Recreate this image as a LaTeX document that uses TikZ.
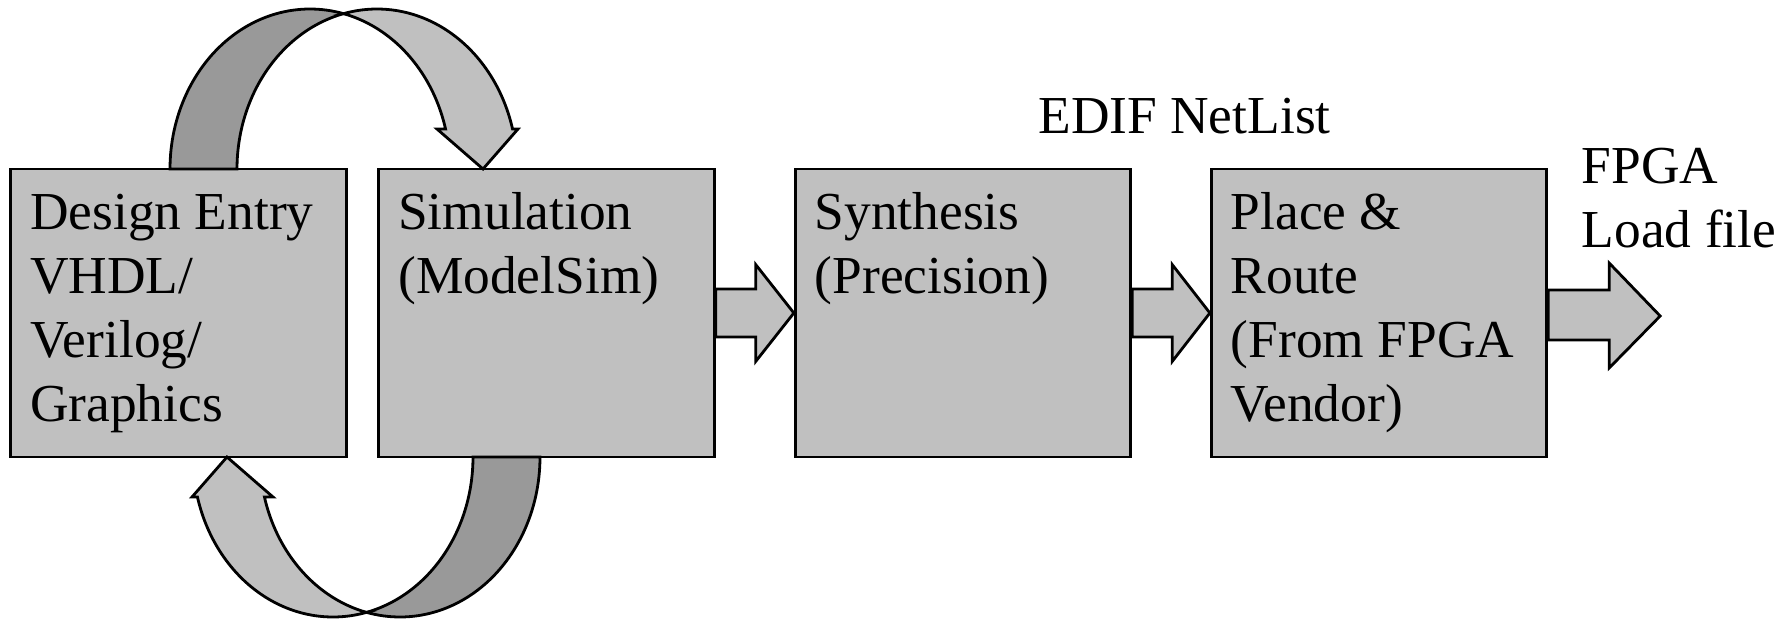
\documentclass[tikz,border=0pt]{standalone}
\usepackage{fontspec}
\setmainfont{Liberation Serif}
\usetikzlibrary{calc}

\definecolor{boxgray}{HTML}{C0C0C0}
\definecolor{ribbondark}{HTML}{999999}

\tikzset{
  stage/.style={draw=black, fill=boxgray, line width=1.4pt,
    minimum width=167.75pt, minimum height=144pt, inner sep=0pt},
  stagetext/.style={anchor=north west, inner sep=0pt, align=left,
    font=\fontsize{26.7}{32}\selectfont},
  plaintext/.style={inner sep=0pt, align=left,
    font=\fontsize{26.7}{32}\selectfont},
  blockarrow/.style={draw=black, fill=boxgray, line width=1.4pt, line join=miter},
  ribbonpart/.style={draw=black, line width=1.4pt, line join=miter},
  % looping ribbon arrow: two equal ellipses offset sideways form the band
  ribbon/.pic={
    \filldraw[ribbonpart, fill=ribbondark]
      plot[domain=180:283.85, samples=60] ({-45+140*cos(\x)},{-144+160*sin(\x)})
      -- plot[domain=256.15:180, samples=60] ({22+140*cos(\x)},{-144+160*sin(\x)})
      -- cycle;
    \filldraw[ribbonpart, fill=boxgray]
      plot[domain=256.15:345.52, samples=60] ({22+140*cos(\x)},{-144+160*sin(\x)})
      -- (163,-184) -- (128,-144) -- (82,-184)
      -- plot[domain=345.52:283.85, samples=60] ({-45+140*cos(\x)},{-144+160*sin(\x)})
      -- cycle;
  }
}

\begin{document}
\begin{tikzpicture}[x=0.5pt, y=-0.5pt]
  \useasboundingbox (0,0) rectangle (1791,621);

  % process stages
  \node[stage] (de)  at (178.5,313) {};
  \node[stage] (sim) at (546.5,313) {};
  \node[stage] (syn) at (963,313) {};
  \node[stage] (pr)  at (1379,313) {};

  % design entry <-> simulation loop
  \coordinate (hub) at ($(de.center)!0.5!(sim.center)+(-7.5,0)$);
  \pic at (hub) {ribbon};
  \pic[rotate=180] at (hub) {ribbon};

  % stage captions (first baseline 61px below the box top)
  \node[stagetext] (detext)  at ($(de.north west)+(20.5,16.2)$)  {\strut Design Entry\\VHDL/\\Verilog/\\Graphics};
  \node[stagetext] (simtext) at ($(sim.north west)+(20.5,16.2)$) {\strut Simulation\\(ModelSim)};
  \node[stagetext] (syntext) at ($(syn.north west)+(20.5,16.2)$) {\strut Synthesis\\(Precision)};
  \node[stagetext] (prtext)  at ($(pr.north west)+(20.5,16.2)$)  {\strut Place \&\\Route\\(From FPGA\\Vendor)};

  % block arrows between stages
  \filldraw[blockarrow] ($(sim.east)+(0,-24)$) -- ++(40,0) -- ++(0,-24.5)
    -- (syn.west) -- ($(sim.east)+(40,48.5)$) -- ++(0,-24.5)
    -- ($(sim.east)+(0,24)$) -- cycle;
  \filldraw[blockarrow] ($(syn.east)+(0,-24)$) -- ++(40,0) -- ++(0,-24.5)
    -- (pr.west) -- ($(syn.east)+(40,48.5)$) -- ++(0,-24.5)
    -- ($(syn.east)+(0,24)$) -- cycle;

  % output arrow
  \coordinate (load) at ($(pr.east)+(112,3)$);
  \filldraw[blockarrow] ($(pr.east)+(0,-23)$) -- ++(61,0) -- ++(0,-27)
    -- (load) -- ($(pr.east)+(61,55)$) -- ++(0,-28)
    -- ($(pr.east)+(0,27)$) -- cycle;

  % free labels
  \node[plaintext, anchor=base west] (edif) at (1038,133.3) {EDIF NetList};
  \node[stagetext] (fpga) at (1581.5,138.2) {\strut FPGA\\Load file};
\end{tikzpicture}
\end{document}
